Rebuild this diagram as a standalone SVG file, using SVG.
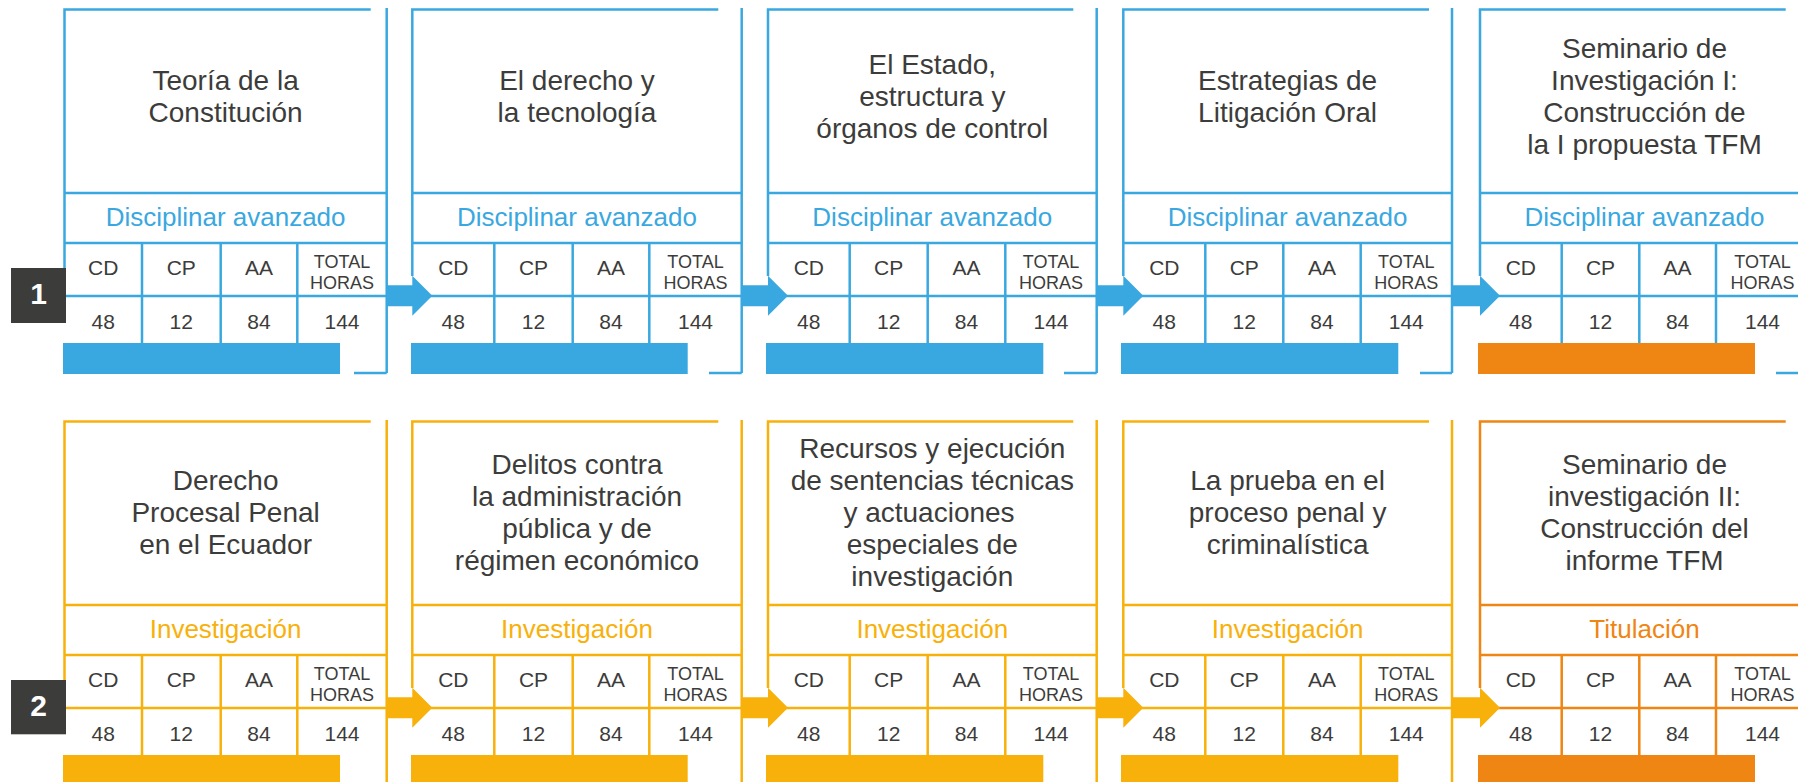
<svg xmlns="http://www.w3.org/2000/svg" width="1798" height="782" viewBox="0 0 1798 782">
<style>
.ln{fill:none;stroke-width:2.5}
.b{stroke:#3AA8E0}.y{stroke:#F8B10B}.o{stroke:#EF8512}
.fb{fill:#3AA8E0}.fy{fill:#F8B10B}.fo{fill:#EF8512}
text{font-family:"Liberation Sans","Open Sans",sans-serif;text-anchor:middle;fill:#3c3c3b}
.t{font-size:28px}
.c{font-size:26px}
.h{font-size:21px}
.hs{font-size:18px}
.v{font-size:21px}
.cb{fill:#3AA8E0}.cy{fill:#F8B10B}.co{fill:#EF8512}
.lab{fill:#ffffff;font-size:30px;font-weight:bold}
</style>
<rect width="1798" height="782" fill="#ffffff"/>

<!-- ROW 1 -->
<g id="box-r1-1">
<path class="ln b" d="M64.5 276V9.5H370.7M386.7 8V373M354 373H386.7M64.5 193H386.7M64.5 243H386.7M64.5 296H386.7M142 243V343M220.7 243V343M297.3 243V343"/>
<rect class="fb" x="63" y="343" width="277" height="31"/>
<text class="t"><tspan x="225.6" y="89.5">Teoría de la</tspan><tspan x="225.6" dy="32">Constitución</tspan></text>
<text class="c cb" x="225.6" y="226">Disciplinar avanzado</text>
<text class="h" x="103.2" y="275">CD</text><text class="h" x="181.3" y="275">CP</text><text class="h" x="259" y="275">AA</text>
<text class="hs"><tspan x="342" y="268.3">TOTAL</tspan><tspan x="342" dy="20.3">HORAS</tspan></text>
<text class="v" x="103.2" y="329.3">48</text><text class="v" x="181.3" y="329.3">12</text><text class="v" x="259" y="329.3">84</text><text class="v" x="342" y="329.3">144</text>
</g>

<g id="box-r1-2">
<path class="ln b" d="M412.3 276V9.5H718.3M741.7 8V373M709 373H741.7M412.3 193H741.7M412.3 243H741.7M412.3 296H741.7M494.3 243V343M572.7 243V343M649.3 243V343"/>
<rect class="fb" x="411" y="343" width="276.7" height="31"/>
<text class="t"><tspan x="577" y="89.5">El derecho y</tspan><tspan x="577" dy="32">la tecnología</tspan></text>
<text class="c cb" x="577" y="226">Disciplinar avanzado</text>
<text class="h" x="453.3" y="275">CD</text><text class="h" x="533.5" y="275">CP</text><text class="h" x="611" y="275">AA</text>
<text class="hs"><tspan x="695.5" y="268.3">TOTAL</tspan><tspan x="695.5" dy="20.3">HORAS</tspan></text>
<text class="v" x="453.3" y="329.3">48</text><text class="v" x="533.5" y="329.3">12</text><text class="v" x="611" y="329.3">84</text><text class="v" x="695.5" y="329.3">144</text>
</g>

<g id="box-r1-3">
<path class="ln b" d="M768 276V9.5H1073.3M1096.7 8V373M1064 373H1096.7M768 193H1096.7M768 243H1096.7M768 296H1096.7M849.7 243V343M927.7 243V343M1005.3 243V343"/>
<rect class="fb" x="766" y="343" width="277.3" height="31"/>
<text class="t"><tspan x="932.3" y="73.5">El Estado,</tspan><tspan x="932.3" dy="32">estructura y</tspan><tspan x="932.3" dy="32">órganos de control</tspan></text>
<text class="c cb" x="932.3" y="226">Disciplinar avanzado</text>
<text class="h" x="808.8" y="275">CD</text><text class="h" x="888.7" y="275">CP</text><text class="h" x="966.5" y="275">AA</text>
<text class="hs"><tspan x="1051" y="268.3">TOTAL</tspan><tspan x="1051" dy="20.3">HORAS</tspan></text>
<text class="v" x="808.8" y="329.3">48</text><text class="v" x="888.7" y="329.3">12</text><text class="v" x="966.5" y="329.3">84</text><text class="v" x="1051" y="329.3">144</text>
</g>

<g id="box-r1-4">
<path class="ln b" d="M1123.3 276V9.5H1429M1452 8V373M1420 373H1452M1123.3 193H1452M1123.3 243H1452M1123.3 296H1452M1205.3 243V343M1283.3 243V343M1360.7 243V343"/>
<rect class="fb" x="1121" y="343" width="277.3" height="31"/>
<text class="t"><tspan x="1287.6" y="89.5">Estrategias de</tspan><tspan x="1287.6" dy="32">Litigación Oral</tspan></text>
<text class="c cb" x="1287.6" y="226">Disciplinar avanzado</text>
<text class="h" x="1164.3" y="275">CD</text><text class="h" x="1244.3" y="275">CP</text><text class="h" x="1322" y="275">AA</text>
<text class="hs"><tspan x="1406.3" y="268.3">TOTAL</tspan><tspan x="1406.3" dy="20.3">HORAS</tspan></text>
<text class="v" x="1164.3" y="329.3">48</text><text class="v" x="1244.3" y="329.3">12</text><text class="v" x="1322" y="329.3">84</text><text class="v" x="1406.3" y="329.3">144</text>
</g>

<g id="box-r1-5">
<path class="ln b" d="M1480 276V9.5H1785.7M1809 8V373M1776 373H1809M1480 193H1809M1480 243H1809M1480 296H1809M1561.7 243V343M1639.3 243V343M1716 243V343"/>
<rect class="fo" x="1478" y="343" width="277" height="31"/>
<text class="t"><tspan x="1644.5" y="57.5">Seminario de</tspan><tspan x="1644.5" dy="32">Investigación I:</tspan><tspan x="1644.5" dy="32">Construcción de</tspan><tspan x="1644.5" dy="32">la I propuesta TFM</tspan></text>
<text class="c cb" x="1644.5" y="226">Disciplinar avanzado</text>
<text class="h" x="1520.8" y="275">CD</text><text class="h" x="1600.5" y="275">CP</text><text class="h" x="1677.6" y="275">AA</text>
<text class="hs"><tspan x="1762.5" y="268.3">TOTAL</tspan><tspan x="1762.5" dy="20.3">HORAS</tspan></text>
<text class="v" x="1520.8" y="329.3">48</text><text class="v" x="1600.5" y="329.3">12</text><text class="v" x="1677.6" y="329.3">84</text><text class="v" x="1762.5" y="329.3">144</text>
</g>

<!-- ROW 2 -->
<g id="box-r2-1">
<path class="ln y" d="M64.5 688V421.5H370.7M386.7 420V785M64.5 605H386.7M64.5 655H386.7M64.5 708H386.7M142 655V755M220.7 655V755M297.3 655V755"/>
<rect class="fy" x="63" y="755" width="277" height="31"/>
<text class="t"><tspan x="225.6" y="489.5">Derecho</tspan><tspan x="225.6" dy="32">Procesal Penal</tspan><tspan x="225.6" dy="32">en el Ecuador</tspan></text>
<text class="c cy" x="225.6" y="638">Investigación</text>
<text class="h" x="103.2" y="687">CD</text><text class="h" x="181.3" y="687">CP</text><text class="h" x="259" y="687">AA</text>
<text class="hs"><tspan x="342" y="680.3">TOTAL</tspan><tspan x="342" dy="20.3">HORAS</tspan></text>
<text class="v" x="103.2" y="741.3">48</text><text class="v" x="181.3" y="741.3">12</text><text class="v" x="259" y="741.3">84</text><text class="v" x="342" y="741.3">144</text>
</g>

<g id="box-r2-2">
<path class="ln y" d="M412.3 688V421.5H718.3M741.7 420V785M412.3 605H741.7M412.3 655H741.7M412.3 708H741.7M494.3 655V755M572.7 655V755M649.3 655V755"/>
<rect class="fy" x="411" y="755" width="276.7" height="31"/>
<text class="t"><tspan x="577" y="473.5">Delitos contra</tspan><tspan x="577" dy="32">la administración</tspan><tspan x="577" dy="32">pública y de</tspan><tspan x="577" dy="32">régimen económico</tspan></text>
<text class="c cy" x="577" y="638">Investigación</text>
<text class="h" x="453.3" y="687">CD</text><text class="h" x="533.5" y="687">CP</text><text class="h" x="611" y="687">AA</text>
<text class="hs"><tspan x="695.5" y="680.3">TOTAL</tspan><tspan x="695.5" dy="20.3">HORAS</tspan></text>
<text class="v" x="453.3" y="741.3">48</text><text class="v" x="533.5" y="741.3">12</text><text class="v" x="611" y="741.3">84</text><text class="v" x="695.5" y="741.3">144</text>
</g>

<g id="box-r2-3">
<path class="ln y" d="M768 688V421.5H1073.3M1096.7 420V785M768 605H1096.7M768 655H1096.7M768 708H1096.7M849.7 655V755M927.7 655V755M1005.3 655V755"/>
<rect class="fy" x="766" y="755" width="277.3" height="31"/>
<text class="t"><tspan x="932.3" y="457.5">Recursos y ejecución</tspan><tspan x="932.3" dy="32">de sentencias técnicas</tspan><tspan x="929" dy="32">y actuaciones</tspan><tspan x="932.3" dy="32">especiales de</tspan><tspan x="932.3" dy="32">investigación</tspan></text>
<text class="c cy" x="932.3" y="638">Investigación</text>
<text class="h" x="808.8" y="687">CD</text><text class="h" x="888.7" y="687">CP</text><text class="h" x="966.5" y="687">AA</text>
<text class="hs"><tspan x="1051" y="680.3">TOTAL</tspan><tspan x="1051" dy="20.3">HORAS</tspan></text>
<text class="v" x="808.8" y="741.3">48</text><text class="v" x="888.7" y="741.3">12</text><text class="v" x="966.5" y="741.3">84</text><text class="v" x="1051" y="741.3">144</text>
</g>

<g id="box-r2-4">
<path class="ln y" d="M1123.3 688V421.5H1429M1452 420V785M1123.3 605H1452M1123.3 655H1452M1123.3 708H1452M1205.3 655V755M1283.3 655V755M1360.7 655V755"/>
<rect class="fy" x="1121" y="755" width="277.3" height="31"/>
<text class="t"><tspan x="1287.6" y="489.5">La prueba en el</tspan><tspan x="1287.6" dy="32">proceso penal y</tspan><tspan x="1287.6" dy="32">criminalística</tspan></text>
<text class="c cy" x="1287.6" y="638">Investigación</text>
<text class="h" x="1164.3" y="687">CD</text><text class="h" x="1244.3" y="687">CP</text><text class="h" x="1322" y="687">AA</text>
<text class="hs"><tspan x="1406.3" y="680.3">TOTAL</tspan><tspan x="1406.3" dy="20.3">HORAS</tspan></text>
<text class="v" x="1164.3" y="741.3">48</text><text class="v" x="1244.3" y="741.3">12</text><text class="v" x="1322" y="741.3">84</text><text class="v" x="1406.3" y="741.3">144</text>
</g>

<g id="box-r2-5">
<path class="ln o" d="M1480 688V421.5H1785.7M1809 420V785M1480 605H1809M1480 655H1809M1480 708H1809M1561.7 655V755M1639.3 655V755M1716 655V755"/>
<rect class="fo" x="1478" y="755" width="277" height="31"/>
<text class="t"><tspan x="1644.5" y="473.5">Seminario de</tspan><tspan x="1644.5" dy="32">investigación II:</tspan><tspan x="1644.5" dy="32">Construcción del</tspan><tspan x="1644.5" dy="32">informe TFM</tspan></text>
<text class="c co" x="1644.5" y="638">Titulación</text>
<text class="h" x="1520.8" y="687">CD</text><text class="h" x="1600.5" y="687">CP</text><text class="h" x="1677.6" y="687">AA</text>
<text class="hs"><tspan x="1762.5" y="680.3">TOTAL</tspan><tspan x="1762.5" dy="20.3">HORAS</tspan></text>
<text class="v" x="1520.8" y="741.3">48</text><text class="v" x="1600.5" y="741.3">12</text><text class="v" x="1677.6" y="741.3">84</text><text class="v" x="1762.5" y="741.3">144</text>
</g>

<g id="connectors">
<polygon class="fb" points="386.7,285.2 412.3,285.2 412.3,275.7 432.3,295.7 412.3,315.7 412.3,306.2 386.7,306.2"/>
<polygon class="fb" points="741.7,285.2 768,285.2 768,275.7 788,295.7 768,315.7 768,306.2 741.7,306.2"/>
<polygon class="fb" points="1096.7,285.2 1123.3,285.2 1123.3,275.7 1143.3,295.7 1123.3,315.7 1123.3,306.2 1096.7,306.2"/>
<polygon class="fb" points="1452,285.2 1480,285.2 1480,275.7 1500,295.7 1480,315.7 1480,306.2 1452,306.2"/>
<polygon class="fy" points="386.7,697.2 412.3,697.2 412.3,687.7 432.3,707.7 412.3,727.7 412.3,718.2 386.7,718.2"/>
<polygon class="fy" points="741.7,697.2 768,697.2 768,687.7 788,707.7 768,727.7 768,718.2 741.7,718.2"/>
<polygon class="fy" points="1096.7,697.2 1123.3,697.2 1123.3,687.7 1143.3,707.7 1123.3,727.7 1123.3,718.2 1096.7,718.2"/>
<polygon class="fy" points="1452,697.2 1480,697.2 1480,687.7 1500,707.7 1480,727.7 1480,718.2 1452,718.2"/>
</g>

<g id="label-1">
<rect x="11" y="268" width="55" height="55" fill="#3c3c3b"/>
<text class="lab" x="38.5" y="304">1</text>
</g>
<g id="label-2">
<rect x="11" y="680" width="55" height="54.3" fill="#3c3c3b"/>
<text class="lab" x="38.5" y="716">2</text>
</g>
</svg>
